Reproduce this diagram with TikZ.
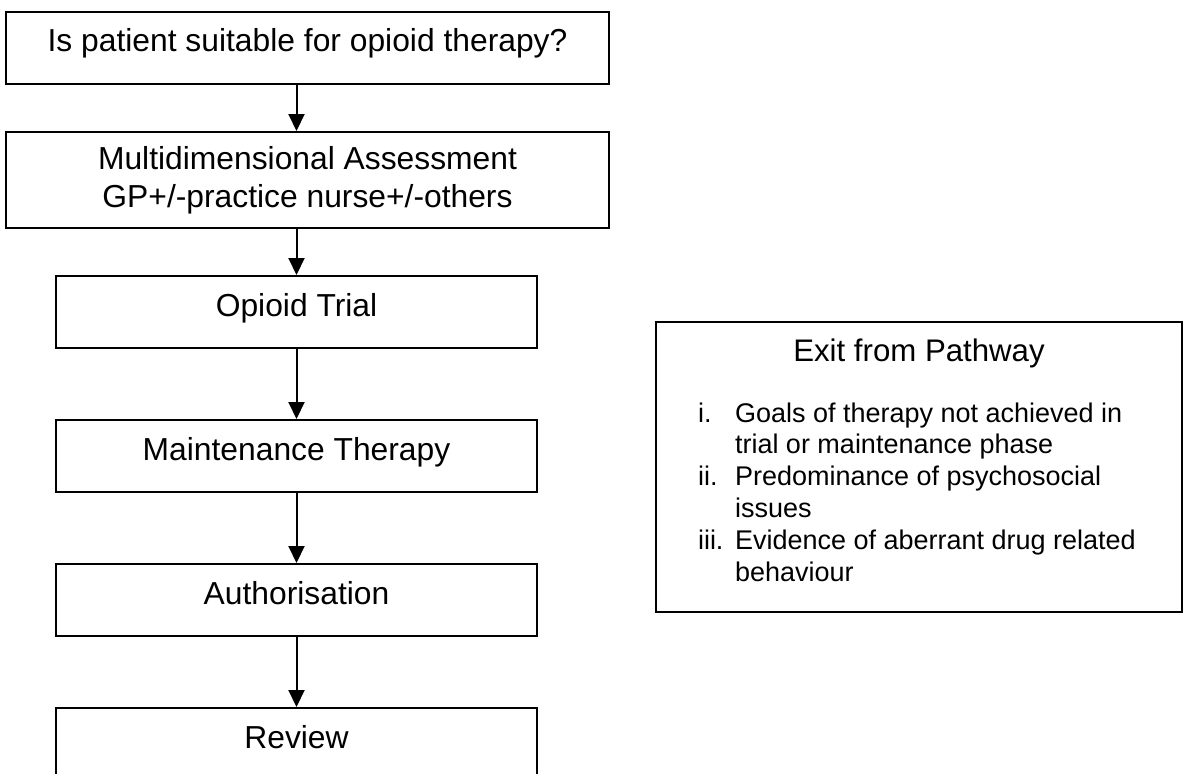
\documentclass[tikz,border=0pt]{standalone}
\usepackage{fontspec}
\setmainfont{Liberation Sans}
\usetikzlibrary{arrows.meta}
\tikzstyle{stepbox}=[rectangle,draw=black,inner sep=0pt,minimum width=240.5pt,font=\fontsize{15.9}{19}\selectfont]
\tikzstyle{oneline}=[minimum height=36pt,text height=20pt,text depth=16pt]
\tikzstyle{exitbox}=[rectangle,draw=black,inner sep=0pt,minimum width=263pt,minimum height=145pt]
\tikzstyle{arrow}=[-{Triangle[length=8.5pt,width=8pt]}]
\tikzset{every picture/.style={
    line width=1pt
  }
}

\begin{document}
\begin{tikzpicture}[x=1pt,y=1pt]
          \useasboundingbox (0,0) rectangle (593.5,-386.5);
          \node[stepbox,oneline,minimum width=301.5pt] at (153.75,-23.75) (suit) {Is patient suitable for opioid therapy?};
          \node[stepbox,minimum width=301.5pt,minimum height=48pt,align=center] (assess) [node distance=66.25pt,below of=suit] {Multidimensional Assessment\\GP+/-practice nurse+/-others};
          \node[stepbox,oneline] (trial) [node distance=66pt,below of=assess,xshift=-5.5pt] {Opioid Trial};
          \node[stepbox,oneline] (maint) [node distance=72pt,below of=trial] {Maintenance Therapy};
          \node[stepbox,oneline] (auth) [node distance=72pt,below of=maint] {Authorisation};
          \node[stepbox,oneline] (review) [node distance=72pt,below of=auth] {Review};
          \draw [arrow] (suit.south -| trial) -- (assess.north -| trial);
          \draw [arrow] (assess.south -| trial) -- (trial);
          \draw [arrow] (trial) -- (maint);
          \draw [arrow] (maint) -- (auth);
          \draw [arrow] (auth) -- (review);
          % exit box on the right
          \node[exitbox] at (459.5,-233.5) (exit) {};
          \node[anchor=base,font=\fontsize{15.6}{19}\selectfont] at (459.5,-180.5) (exittitle) {Exit from Pathway};
          \node[anchor=base west,inner sep=0pt,font=\fontsize{13.5}{15.9}\selectfont] at (348.5,-211) (exitlist) {\begin{tabular}[t]{@{}p{18.5pt}@{}l@{}}
            i. & Goals of therapy not achieved in\\
               & trial or maintenance phase\\
            ii. & Predominance of psychosocial\\
               & issues\\
            iii. & Evidence of aberrant drug related\\
               & behaviour
          \end{tabular}};
        \end{tikzpicture}
\end{document}
